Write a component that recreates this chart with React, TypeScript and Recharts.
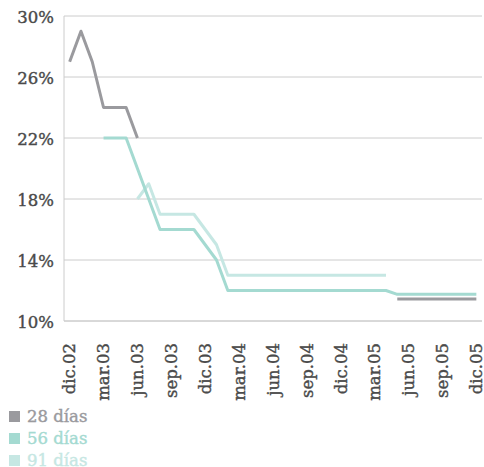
import React from "react";
import { LineChart, Line, XAxis, YAxis, CartesianGrid } from "recharts";

const months = [
  "dic.02","ene.03","feb.03","mar.03","abr.03","may.03","jun.03","jul.03","ago.03","sep.03","oct.03","nov.03",
  "dic.03","ene.04","feb.04","mar.04","abr.04","may.04","jun.04","jul.04","ago.04","sep.04","oct.04","nov.04",
  "dic.04","ene.05","feb.05","mar.05","abr.05","may.05","jun.05","jul.05","ago.05","sep.05","oct.05","nov.05","dic.05",
];
const tickLabels = ["dic.02","mar.03","jun.03","sep.03","dic.03","mar.04","jun.04","sep.04","dic.04","mar.05","jun.05","sep.05","dic.05"];
const yTicks = [10, 14, 18, 22, 26, 30];

const n = null;
const s28: (number | null)[] = [27, 29, 27, 24, 24, 24, 22, n, n, n, n, n, n, n, n, n, n, n, n, n, n, n, n, n, n, n, n, n, n, 11.45, 11.45, 11.45, 11.45, 11.45, 11.45, 11.45, 11.45];
const s56: (number | null)[] = [n, n, n, 22, 22, 22, 20, 18, 16, 16, 16, 16, 15, 14, 12, 12, 12, 12, 12, 12, 12, 12, 12, 12, 12, 12, 12, 12, 12, 11.75, 11.75, 11.75, 11.75, 11.75, 11.75, 11.75, 11.75];
const s91: (number | null)[] = [n, n, n, n, n, n, 18, 19, 17, 17, 17, 17, 16, 15, 13, 13, 13, 13, 13, 13, 13, 13, 13, 13, 13, 13, 13, 13, 13, n, n, n, n, n, n, n, n];

const seriesNames = ["28 días", "56 días", "91 días"];
const colors = ["#9a9a9e", "#a4dad1", "#c6e7e3"];

const data = months.map((m, i) => ({ i, m, s28: s28[i], s56: s56[i], s91: s91[i] }));
const xTicks = tickLabels.map((t) => months.indexOf(t));

const FONT = "'DejaVu Serif', serif";
const TEXT = "#4a4a4a";

const XTick = (props: any) => {
  const { x, y, payload } = props;
  return (
    <g transform={`translate(${x},${y})`}>
      <text transform="rotate(-90)" x={-14} y={0} dy="0.35em" textAnchor="end" fill={TEXT} stroke={TEXT} strokeWidth={0.4} fontSize={16.5} fontFamily={FONT}>
        {months[payload.value]}
      </text>
    </g>
  );
};

const YTick = (props: any) => {
  const { x, y, payload } = props;
  return (
    <text x={x} y={y} dy="0.4em" textAnchor="end" fill={TEXT} stroke={TEXT} strokeWidth={0.4} fontSize={16.5} fontFamily={FONT}>
      {`${payload.value}%`}
    </text>
  );
};

export default function App() {
  return (
    <div style={{ position: "absolute", left: 0, top: 0, width: 484, height: 467 }}>
      <LineChart width={484} height={467} data={data} margin={{ top: 16, right: 2, left: 0, bottom: 0 }}>
        <CartesianGrid vertical={false} stroke="#cccccc" strokeWidth={1} />
        <XAxis
          dataKey="i"
          type="number"
          domain={[-0.5, 36.5]}
          ticks={xTicks}
          tick={<XTick />}
          tickLine={false}
          axisLine={{ stroke: "#cccccc" }}
          height={146}
          interval={0}
        />
        <YAxis
          domain={[10, 30]}
          ticks={yTicks}
          width={64}
          tickLine={false}
          axisLine={{ stroke: "#cccccc" }}
          tick={<YTick />}
          tickMargin={4}
        />
        <Line dataKey="s91" stroke={colors[2]} strokeWidth={3} dot={false} isAnimationActive={false} connectNulls={false} strokeLinejoin="round" />
        <Line dataKey="s56" stroke={colors[1]} strokeWidth={3} dot={false} isAnimationActive={false} connectNulls={false} strokeLinejoin="round" />
        <Line dataKey="s28" stroke={colors[0]} strokeWidth={3} dot={false} isAnimationActive={false} connectNulls={false} strokeLinejoin="round" />
      </LineChart>
      <div style={{ position: "absolute", left: 9, top: 405, fontFamily: FONT, fontSize: 16.5 }}>
        {seriesNames.map((name, k) => (
          <div key={name} style={{ display: "flex", alignItems: "center", height: 22, color: colors[k] }}>
            <span style={{ display: "inline-block", width: 11, height: 11, background: colors[k], marginRight: 7 }} />
            <span style={{ WebkitTextStroke: `0.4px ${colors[k]}` }}>{name}</span>
          </div>
        ))}
      </div>
    </div>
  );
}
